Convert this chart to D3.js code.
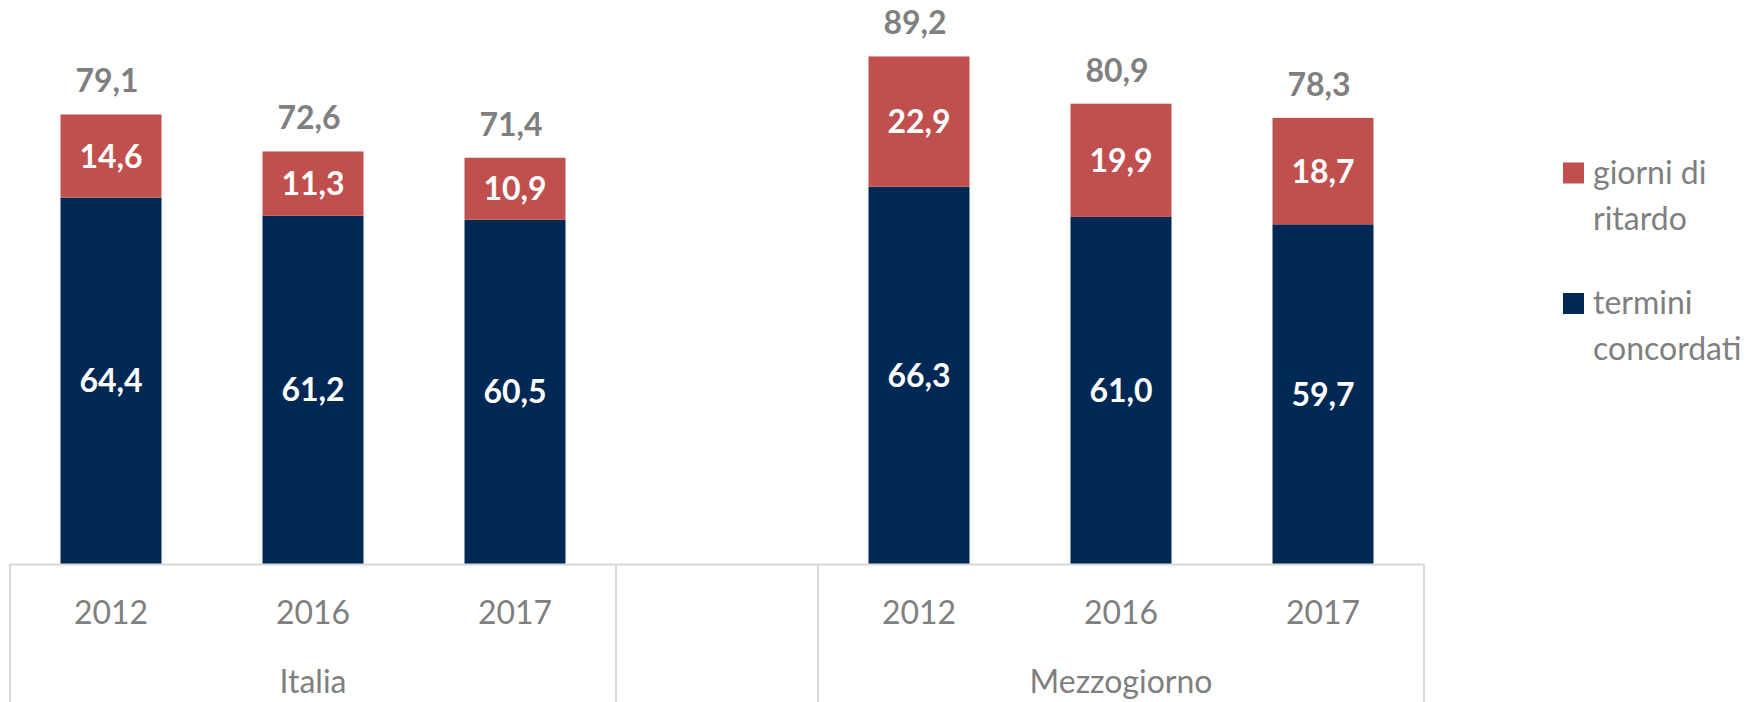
<!DOCTYPE html>
<html>
<head>
<meta charset="utf-8">
<script src="https://cdn.jsdelivr.net/npm/d3@7"></script>
<style>
  html, body { margin: 0; padding: 0; background: #ffffff; }
  svg { display: block; }
  text { font-family: Lato, "Open Sans", sans-serif; }
</style>
</head>
<body>
<svg id="chart" width="1756" height="702"></svg>
<script>
// ---- data ----
const groups = ["Italia", "Mezzogiorno"];
const years = ["2012", "2016", "2017"];
const termini = [64.4, 61.2, 60.5, 66.3, 61.0, 59.7];
const ritardo = [14.6, 11.3, 10.9, 22.9, 19.9, 18.7];
const totals  = [79.1, 72.6, 71.4, 89.2, 80.9, 78.3];
const seriesNames = ["giorni di ritardo", "termini concordati"];

// ---- build rows ----
const rows = [];
groups.forEach((g, gi) => years.forEach((yr, yi) => {
  const i = gi * years.length + yi;
  rows.push({ key: g + "|" + yr, group: g, year: yr, termini: termini[i], ritardo: ritardo[i], total: totals[i] });
}));
// Excel-style blank category between the groups
const slots = [...rows.slice(0, 3).map(d => d.key), "blank", ...rows.slice(3).map(d => d.key)];

const svg = d3.select("#chart");
const colRed = "#C0504D", colBlue = "#002855", gray = "#7F7F7F", axisCol = "#D9D9D9";
const fmt = d3.formatLocale({ decimal: ",", thousands: ".", grouping: [3], currency: ["", "€"] }).format(".1f");

const x = d3.scaleBand().domain(slots).range([10, 1424]).paddingInner(0.5).paddingOuter(0.25);
const y = d3.scaleLinear().domain([0, 100]).range([564, -5]);

const stack = d3.stack().keys(["termini", "ritardo"]);
const stacked = stack(rows);
const colors = { termini: colBlue, ritardo: colRed };

const gBars = svg.append("g");
stacked.forEach(layer => {
  gBars.selectAll(null).data(layer).enter().append("rect")
    .attr("x", d => x(d.data.key))
    .attr("width", x.bandwidth())
    .attr("y", d => y(d[1]))
    .attr("height", d => y(d[0]) - y(d[1]))
    .attr("fill", colors[layer.key]);
  // inner labels
  gBars.selectAll(null).data(layer).enter().append("text")
    .attr("x", d => x(d.data.key) + x.bandwidth() / 2)
    .attr("y", d => (y(d[0]) + y(d[1])) / 2)
    .attr("dy", "0.36em")
    .attr("text-anchor", "middle")
    .attr("fill", "#ffffff")
    .attr("font-weight", 700)
    .attr("font-size", 32)
    .text(d => fmt(d.data[layer.key]));
});

// total labels
svg.append("g").selectAll("text").data(rows).enter().append("text")
  .attr("x", d => x(d.key) + x.bandwidth() / 2 - 4)
  .attr("y", d => y(d.termini + d.ritardo) - 22)
  .attr("text-anchor", "middle")
  .attr("fill", gray)
  .attr("font-weight", 700)
  .attr("font-size", 32)
  .text(d => fmt(d.total));

// ---- multi-level category axis ----
const axisG = svg.append("g").attr("transform", "translate(0,564)");
const xAxis = d3.axisBottom(x).tickSize(0).tickFormat(k => k === "blank" ? "" : k.split("|")[1]);
axisG.call(xAxis);
axisG.select(".domain").attr("d", `M${x.range()[0]},0.5H${x.range()[1]}`).attr("stroke", axisCol).attr("stroke-width", 2);
axisG.selectAll(".tick text")
  .attr("y", 60).attr("dy", 0)
  .attr("fill", gray).attr("font-size", 32)
  .style("font-family", "Lato, 'Open Sans', sans-serif");

// group dividers
const step = x.step();
const startX = x.range()[0];
const dividers = [startX, startX + 3 * step, startX + 4 * step, x.range()[1]];
axisG.selectAll("line.div").data(dividers).enter().append("line")
  .attr("class", "div")
  .attr("x1", d => d).attr("x2", d => d)
  .attr("y1", 0).attr("y2", 140)
  .attr("stroke", axisCol).attr("stroke-width", 2);

// group labels
const groupCenters = [ (dividers[0] + dividers[1]) / 2, (dividers[2] + dividers[3]) / 2 ];
axisG.selectAll("text.grp").data(groups).enter().append("text")
  .attr("class", "grp")
  .attr("x", (d, i) => groupCenters[i])
  .attr("y", 129)
  .attr("text-anchor", "middle")
  .attr("fill", gray).attr("font-size", 32)
  .text(d => d);

// ---- legend ----
const legend = svg.append("g");
const legendItems = [
  { color: colRed, lines: ["giorni di", "ritardo"], y: 162.5 },
  { color: colBlue, lines: ["termini", "concordati"], y: 293 }
];
legendItems.forEach(it => {
  legend.append("rect").attr("x", 1563).attr("y", it.y).attr("width", 21).attr("height", 21).attr("fill", it.color);
  it.lines.forEach((ln, li) => {
    legend.append("text")
      .attr("x", 1593)
      .attr("y", it.y + 21 + li * 46)
      .attr("fill", gray).attr("font-size", 32)
      .text(ln);
  });
});
</script>
</body>
</html>
